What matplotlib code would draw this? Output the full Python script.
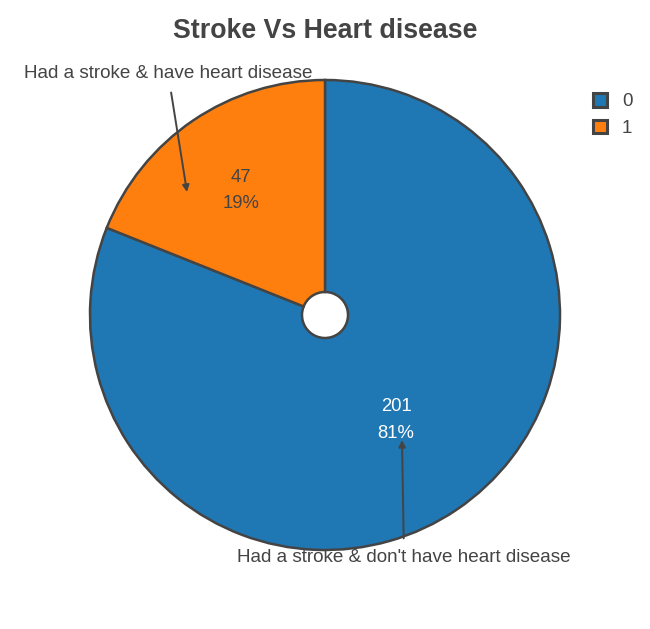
import numpy as np
import matplotlib.pyplot as plt
from matplotlib.patches import Patch

# data
labels = ['0', '1']
counts = [201, 47]
colors = ['#1f77b4', '#ff7f0e']
notes = ["Had a stroke & don't have heart disease", "Had a stroke & have heart disease"]

W, H = 650, 629
plt.rcParams['font.family'] = ['Liberation Sans', 'DejaVu Sans']
fig = plt.figure(figsize=(W / 100, H / 100), dpi=100)
ax = fig.add_axes([0, 0, 1, 1])
ax.set_xlim(0, W)
ax.set_ylim(0, H)
ax.set_aspect('equal')
ax.axis('off')

cx, cy, R = 325, H - 315, 235
edge = '#444444'

def fmt(p):
    return '{:d}\n{:.0f}%'.format(int(round(p * sum(counts) / 100)), p)

wedges, texts, autotexts = ax.pie(counts, colors=colors, startangle=90, counterclock=False,
                                  center=(cx, cy), radius=R, autopct=fmt,
                                  wedgeprops=dict(width=R - 23, edgecolor=edge, linewidth=1.8),
                                  textprops=dict(fontsize=13.3, linespacing=1.75))
ax.set_xlim(0, W)
ax.set_ylim(0, H)

# reposition labels like the original
dists = [0.54, 0.64]
tcol = ['white', edge]
for w, t, d, c in zip(wedges, autotexts, dists, tcol):
    a = np.deg2rad((w.theta1 + w.theta2) / 2)
    t.set_position((cx + d * R * np.cos(a), cy + d * R * np.sin(a)))
    t.set_color(c)
    t.set_ha('center')
    t.set_va('center')

# annotations
ax.annotate(notes[1], xy=(187, H - 192), xytext=(168, H - 73),
            fontsize=13.6, color=edge, ha='center', va='center',
            arrowprops=dict(arrowstyle='-|>', color=edge, lw=1.4, mutation_scale=10, shrinkA=6, shrinkB=0))
ax.annotate(notes[0], xy=(402, H - 440), xytext=(404, H - 558),
            fontsize=13.6, color=edge, ha='center', va='center',
            arrowprops=dict(arrowstyle='-|>', color=edge, lw=1.4, mutation_scale=10, shrinkA=6, shrinkB=0))

fig.text(325 / W, 1 - 31 / H, 'Stroke Vs Heart disease', ha='center', va='center',
         fontsize=19.3, fontweight='bold', color=edge)

handles = [Patch(facecolor=c, edgecolor=edge, linewidth=2.2) for c in colors]
leg = fig.legend(handles, labels, loc='upper left', bbox_to_anchor=(576 / W, 1 - 76 / H),
                 frameon=False, fontsize=13.5, handlelength=0.75, handleheight=0.75,
                 handletextpad=0.8, labelspacing=0.5)
for t in leg.get_texts():
    t.set_color(edge)

fig.savefig('out.png', dpi=100)
